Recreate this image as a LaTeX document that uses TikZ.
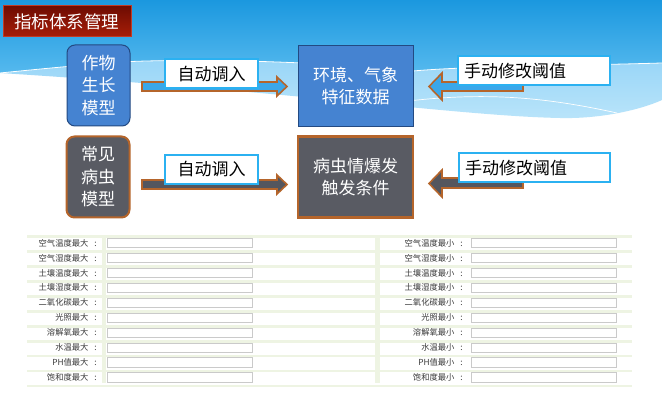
\documentclass[tikz,border=0pt]{standalone}
\usepackage{fontspec}
\setmainfont{Noto Sans CJK SC}
\definecolor{bgtop}{HTML}{1B98DF}
\definecolor{bgmid}{HTML}{55B9EE}
\definecolor{bglight}{HTML}{8ED1F7}
\definecolor{bglight2}{HTML}{B9E4FA}
\definecolor{titletop}{HTML}{6E0C02}
\definecolor{titlebot}{HTML}{A81E08}
\definecolor{titleedge}{HTML}{C23A24}
\definecolor{boxblue}{HTML}{4583D1}
\definecolor{boxblueedge}{HTML}{234A82}
\definecolor{boxgray}{HTML}{595B63}
\definecolor{brownedge}{HTML}{B5652B}
\definecolor{cyanedge}{HTML}{2BB1F1}
\definecolor{arrowblue}{HTML}{3AA7EA}
\definecolor{arrowgray}{HTML}{54565E}
\definecolor{stripe}{HTML}{EEF4E3}
\definecolor{inputedge}{HTML}{CACACA}
\definecolor{labeltext}{HTML}{3A3A3A}
\begin{document}
\begin{tikzpicture}[x=1pt,y=-1pt,
  bigtext/.style={font=\fontsize{17}{22.5}\selectfont},
  titlebox/.style={draw=titleedge, line width=1pt, top color=titletop, bottom color=titlebot,
    text=white, font=\fontsize{17.5}{20}\selectfont, minimum width=128pt, minimum height=31pt, inner sep=0pt},
  modelblue/.style={draw=#1, line width=1pt, rounded corners=8pt, fill=boxblue, text=white, bigtext,
    align=center, minimum width=63pt, minimum height=81pt, inner sep=0pt},
  modelgray/.style={draw=brownedge, line width=2pt, rounded corners=8pt, fill=boxgray, text=white, bigtext,
    align=center, minimum width=63pt, minimum height=81pt, inner sep=0pt},
  databox/.style={draw=boxblueedge, line width=1pt, fill=boxblue, text=white, bigtext,
    align=center, minimum width=115pt, minimum height=81pt, inner sep=0pt},
  condbox/.style={draw=brownedge, line width=2.2pt, fill=boxgray, text=white, bigtext,
    align=center, minimum width=115pt, minimum height=81pt, inner sep=0pt},
  tagbox/.style={draw=cyanedge, line width=2pt, fill=white, text=black, bigtext,
    minimum height=29pt, inner sep=0pt},
  blockarrow/.style={draw=brownedge, line width=1.6pt, line join=miter},
  fieldlabel/.style={font=\fontsize{8.3}{10}\selectfont, text=labeltext, inner sep=0pt, anchor=east},
  inputbox/.style={draw=inputedge, line width=0.5pt, fill=white, minimum width=145pt, minimum height=9.5pt, inner sep=0pt, anchor=west}
]
\useasboundingbox (0,0) rectangle (662,403);
\fill[white] (0,0) rectangle (662,403);

% background waves
\shade[top color=bglight, bottom color=bglight2]
  (0,40) -- (662,40) -- (662,100)
  .. controls (640,110) and (600,119) .. (560,118)
  .. controls (460,116) and (300,92) .. (0,73) -- cycle;
\shade[top color=bgtop, bottom color=bgmid]
  (0,0) -- (662,0) -- (662,63)
  .. controls (560,66) and (470,66) .. (413,71)
  .. controls (330,62) and (200,58) .. (120,62)
  .. controls (70,66) and (30,70) .. (0,73) -- cycle;
\draw[white, line width=0.8pt] (662,63)
  .. controls (560,66) and (470,66) .. (413,71)
  .. controls (330,62) and (200,58) .. (120,62)
  .. controls (70,66) and (30,70) .. (0,73);
\draw[white, line width=0.7pt] (400,102) .. controls (480,92) and (540,96) .. (617,113);

% title
\node[titlebox] (title) at (67,21.5) {指标体系管理};

% arrows
\draw[blockarrow, fill=arrowblue] (142,82) -- (277,82) -- (277,77) -- (287,86.5) -- (277,96) -- (277,91) -- (142,91) -- cycle;
\draw[blockarrow, fill=arrowgray] (142,180) -- (277,180) -- (277,175) -- (287,184.5) -- (277,194) -- (277,189) -- (142,189) -- cycle;
\draw[blockarrow, fill=arrowblue] (523,82) -- (442,82) -- (442,73) -- (429,86.5) -- (442,100) -- (442,91) -- (523,91) -- cycle;
\draw[blockarrow, fill=arrowgray] (523,178) -- (442,178) -- (442,170) -- (429,183.5) -- (442,197) -- (442,188) -- (523,188) -- cycle;

% main nodes
\node[modelblue=boxblueedge] (crop) at (98.5,85.5) {作物\\生长\\模型};
\node[modelgray] (pest) at (98,177) {常见\\病虫\\模型};
\node[databox] (env) at (355.5,86) {环境、气象\\特征数据};
\node[condbox] (cond) at (355.5,177) {病虫情爆发\\触发条件};

% tags
\node[tagbox, minimum width=93pt] (autoA) at (211.5,74) {自动调入};
\node[tagbox, minimum width=93pt] (autoB) at (211.5,169.5) {自动调入};
\node[tagbox, minimum width=152pt, text width=140pt, align=left, inner xsep=6pt] (manA) at (534,71) {手动修改阈值};
\node[tagbox, minimum width=151pt, text width=139pt, align=left, inner xsep=6pt] (manB) at (534.5,168) {手动修改阈值};

% table
\foreach \i in {0,...,10} {
  \fill[stripe] (27,{235.5+14.93*\i}) rectangle (632,{238+14.93*\i});
}
\fill[stripe] (102,236) rectangle (106,383);
\fill[stripe] (375,236) rectangle (380,383);
\foreach \n [count=\i from 0] in {空气温度,空气湿度,土壤温度,土壤湿度,二氧化碳,光照,溶解氧,水温,PH值,饱和度} {
  \node[fieldlabel] (lmax\i) at (97,{243+14.93*\i}) {\n 最大\hspace{6pt}:};
  \node[inputbox] (imax\i) at (107,{243+14.93*\i}) {};
  \node[fieldlabel] (lmin\i) at (463,{243+14.93*\i}) {\n 最小\hspace{6pt}:};
  \node[inputbox] (imin\i) at (471,{243+14.93*\i}) {};
}
\end{tikzpicture}
\end{document}
